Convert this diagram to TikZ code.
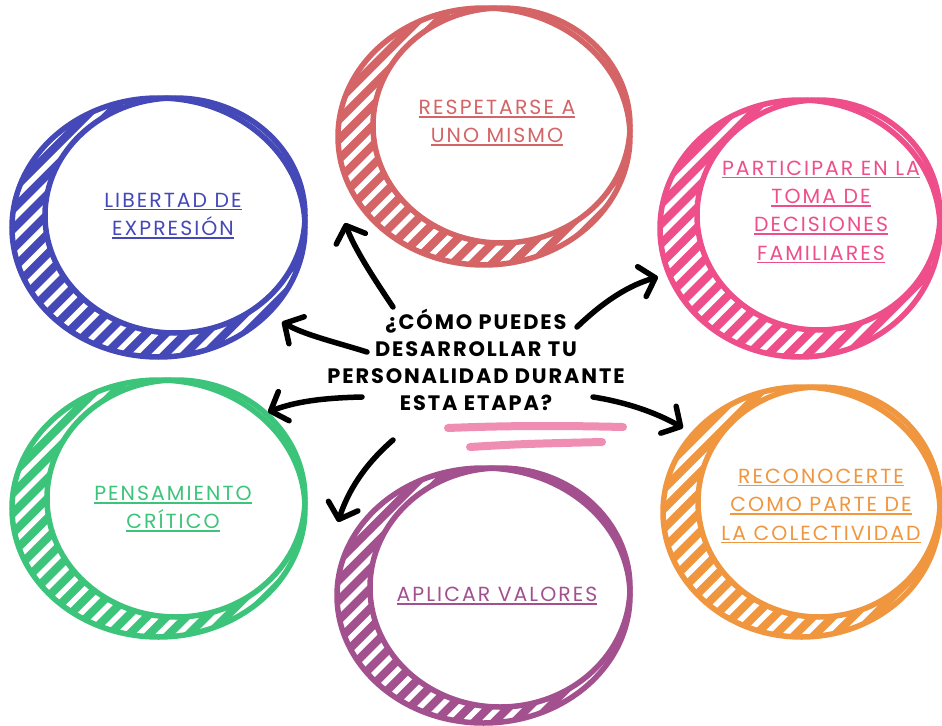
\documentclass[tikz,border=0pt]{standalone}
\usepackage{fontspec}
\setmainfont{Poppins}
\newfontfamily\lblfont{Poppins}[LetterSpace=10]
\newfontfamily\qfont{Poppins}[LetterSpace=9]
\usetikzlibrary{arrows.meta}
\newcommand\myul[1]{\leavevmode\vtop{\hbox{#1}\kern1.5pt\hrule height 1.5pt}}
\definecolor{cblue}{HTML}{4549B7}
\definecolor{cred}{HTML}{D46466}
\definecolor{cpink}{HTML}{EE4F8A}
\definecolor{cgreen}{HTML}{3CC47A}
\definecolor{cpurple}{HTML}{A2508E}
\definecolor{corange}{HTML}{F0963F}
\definecolor{cstroke}{HTML}{F08DB2}
\tikzset{
  outl/.style={line width=5.5bp},
  conn/.style={black, line width=5.5bp, line cap=round, -{Straight Barb[round,length=14bp,width=31bp]}},
  lbl/.style={align=center, font=\lblfont\fontsize{20.5}{28.5}\selectfont},
  question/.style={align=center, font=\qfont\bfseries\fontsize{21}{27}\selectfont},
  pinkline/.style={cstroke, line width=8bp, line cap=round},
}
% #1 cx, #2 cy, #3 rx, #4 ry, #5 dx, #6 dy, #7 colour
\newcommand\bubble[7]{%
  \fill[#7] ({#1+#5},{#2+#6}) ellipse ({#3-#5} and {#4+#6});
  \begin{scope}
    \clip ({#1+#5},{#2+#6}) ellipse ({#3-#5} and {#4+#6});
    \foreach \k in {-17,...,17}
      \draw[white, line width=5.5bp] ({#1+\k*19.8-300},{#2+300}) -- ++(600,-600);
  \end{scope}
  \fill[white] (#1,#2) ellipse (#3 and #4);
  \draw[#7, outl] ({#1+#5},{#2+#6}) ellipse ({#3-#5} and {#4+#6});
  \draw[#7, outl] (#1,#2) ellipse (#3 and #4);
}
\begin{document}
\begin{tikzpicture}[x=1bp,y=-1bp]
\useasboundingbox (0,0) rectangle (942,726);
\fill[white] (0,0) rectangle (942,726);

\bubble{175}{215.5}{130}{117.5}{-16.5}{12}{cblue}
\bubble{501.5}{125.5}{128.5}{117.5}{-17.5}{11}{cred}
\bubble{818.5}{215}{121.5}{115}{-18.5}{13.5}{cpink}
\bubble{176}{498.5}{129}{118.5}{-17.5}{10}{cgreen}
\bubble{500}{587.5}{130}{119.5}{-16.5}{8}{cpurple}
\bubble{819}{502}{121}{115}{-17.5}{10}{corange}

\node[lbl, text=cblue] (lib) at (173,216) {\myul{LIBERTAD DE}\\\myul{EXPRESIÓN}};
\node[lbl, text=cred] (res) at (497,123) {\myul{RESPETARSE A}\\\myul{UNO MISMO}};
\node[lbl, text=cpink] (par) at (821,212) {\myul{PARTICIPAR EN LA}\\\myul{TOMA DE}\\\myul{DECISIONES}\\\myul{FAMILIARES}};
\node[lbl, text=cgreen] (pen) at (173,509) {\myul{PENSAMIENTO}\\\myul{CRÍTICO}};
\node[lbl, text=cpurple] (apl) at (497,596) {\myul{APLICAR VALORES}};
\node[lbl, text=corange] (rec) at (821,506) {\myul{RECONOCERTE}\\\myul{COMO PARTE DE}\\\myul{LA COLECTIVIDAD}};

\node[question] (q) at (476,360) {¿CÓMO PUEDES\\DESARROLLAR TU\\PERSONALIDAD DURANTE\\ESTA ETAPA?};

\draw[pinkline] (448,428) .. controls (520,425) and (580,426) .. (623,427);
\draw[pinkline] (470,447) .. controls (520,444) .. (602,442);

\coordinate (s1) at (393,307); \coordinate (t1) at (345,223);
\coordinate (s2) at (367,352); \coordinate (t2) at (282,322);
\coordinate (s3) at (362,397); \coordinate (t3) at (268,412);
\coordinate (s4) at (393,440); \coordinate (t4) at (338,522);
\coordinate (s5) at (577,327); \coordinate (t5) at (658,277);
\coordinate (s6) at (593,397); \coordinate (t6) at (683,428);

\draw[conn] (s1) .. controls (375,280) and (355,250) .. (t1);
\draw[conn] (s2) .. controls (335,342) and (305,335) .. (t2);
\draw[conn] (s3) .. controls (320,398) and (295,402) .. (t3);
\draw[conn] (s4) .. controls (370,460) and (350,485) .. (t4);
\draw[conn] (s5) .. controls (605,300) and (630,285) .. (t5);
\draw[conn] (s6) .. controls (625,402) and (655,412) .. (t6);
\end{tikzpicture}
\end{document}
